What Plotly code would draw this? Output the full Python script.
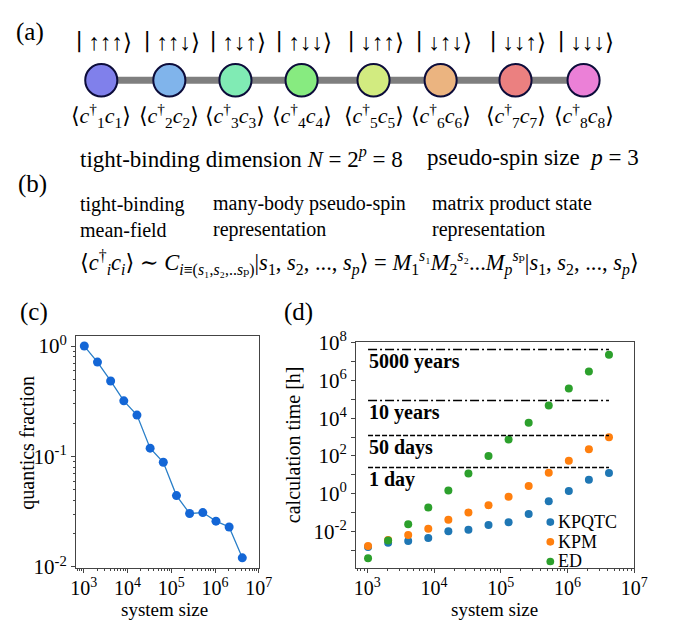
import math
import plotly.graph_objects as go

W, H = 688, 633
SERIF = "Liberation Serif, DejaVu Serif, serif"

# ---------------- panel (a) schematic data ----------------
kets = ["∣ ↑↑↑⟩", "∣ ↑↑↓⟩", "∣ ↑↓↑⟩", "∣ ↑↓↓⟩", "∣ ↓↑↑⟩", "∣ ↓↑↓⟩", "∣ ↓↓↑⟩", "∣ ↓↓↓⟩"]
site_index = ["1", "2", "3", "4", "5", "6", "7", "8"]
site_colors = ["#8080eb", "#80b4eb", "#80ebb4", "#87eb80", "#d2eb80", "#ebb480", "#eb8080", "#eb80d7"]
site_x = [99, 169, 237, 305, 379, 448, 525, 595]

# ---------------- panel (c) data ----------------
system_size = [1024, 2048, 4096, 8192, 16384, 32768, 65536, 131072,
               262144, 524288, 1048576, 2097152, 4194304]
quantics_fraction = [1.0, 0.716, 0.483, 0.319, 0.237, 0.119, 0.0887, 0.0443,
                     0.0305, 0.0311, 0.026, 0.023, 0.0121]

# ---------------- panel (d) data ----------------
time_kpqtc = [0.00148, 0.00245, 0.00309, 0.00437, 0.0100, 0.0120, 0.0219, 0.0302,
              0.0832, 0.398, 1.38, 5.37, 12.3]
time_kpm = [0.00166, 0.00347, 0.00646, 0.0138, 0.0407, 0.100, 0.245, 0.676,
            2.57, 12.9, 55.0, 224.0, 977.0]
time_ed = [0.000372, 0.00324, 0.0234, 0.182, 1.48, 11.7, 97.7, 741.0,
           5750.0, 46800.0, 372000.0, 2950000.0, 23400000.0]
series_names = ["KPQTC", "KPM", "ED"]
series_colors = ["#1f77b4", "#ff7f0e", "#2ca02c"]

threshold_hours = [24, 1200, 87600, 43800000]
threshold_labels = ["1 day", "50 days", "10 years", "5000 years"]
threshold_dash = ["5px,2px", "5px,2px", "9px,3px,2px,3px", "9px,3px,2px,3px"]


def px(x):
    return x / W


def py(y):
    return 1 - y / H


fig = go.Figure()

# panel (c)
fig.add_trace(go.Scatter(
    x=system_size, y=quantics_fraction, mode="lines+markers",
    line=dict(color="#2a7fc8", width=1.3),
    marker=dict(color="#1366d6", size=9),
    xaxis="x", yaxis="y", showlegend=False))

# panel (d)
for name, vals, col in zip(series_names, [time_kpqtc, time_kpm, time_ed], series_colors):
    fig.add_trace(go.Scatter(
        x=system_size, y=vals, mode="markers", name=name,
        marker=dict(color=col, size=8),
        xaxis="x2", yaxis="y2", showlegend=False))

for h, lab, d in zip(threshold_hours, threshold_labels, threshold_dash):
    fig.add_trace(go.Scatter(
        x=[system_size[0], system_size[-1]], y=[h, h], mode="lines",
        line=dict(color="black", width=1.5, dash=d),
        xaxis="x2", yaxis="y2", showlegend=False, hoverinfo="skip"))

annotations = []
shapes = []

for h, lab in zip(threshold_hours, threshold_labels):
    annotations.append(dict(
        x=3.0, y=math.log10(h), xref="x2", yref="y2",
        text="<b>" + lab + "</b>", showarrow=False, xanchor="left", yanchor="middle",
        yshift=-12, font=dict(family=SERIF, size=20, color="black")))

# manual legend for (d)
leg_y = [529.0, 549.5, 570.0]
for name, col, yy in zip(series_names, series_colors, leg_y):
    shapes.append(dict(type="circle", xref="paper", yref="paper",
                       x0=px(556.8), x1=px(564.8), y0=py(yy + 4), y1=py(yy - 4),
                       fillcolor=col, line=dict(width=0)))
    annotations.append(dict(x=px(567), y=py(yy), xref="paper", yref="paper",
                            text=name, showarrow=False, xanchor="left", yanchor="middle",
                            font=dict(family=SERIF, size=18, color="black")))

# schematic (a)
shapes.append(dict(type="line", xref="paper", yref="paper",
                   x0=px(site_x[0]), x1=px(site_x[-1]), y0=py(69), y1=py(69),
                   line=dict(color="#7f7f7f", width=7), layer="above"))
for xx, col, ket, idx in zip(site_x, site_colors, kets, site_index):
    shapes.append(dict(type="circle", xref="paper", yref="paper",
                       x0=px(xx - 16.5), x1=px(xx + 16.5), y0=py(69 + 17), y1=py(69 - 17),
                       fillcolor=col, line=dict(color="#0c0c3a", width=2), layer="above"))
    annotations.append(dict(x=px(xx + 3), y=py(30), xref="paper", yref="paper",
                            text=ket, showarrow=False, xanchor="center", yanchor="middle",
                            font=dict(family=SERIF, size=23, color="black")))
    annotations.append(dict(x=px(xx), y=py(106), xref="paper", yref="paper",
                            text="⟨<i>c</i><sup>†</sup><sub>" + idx + "</sub><i>c</i><sub>" + idx + "</sub>⟩",
                            showarrow=False, xanchor="center", yanchor="middle",
                            font=dict(family=SERIF, size=22, color="black")))

texts = [
    (75, 149, "tight-binding dimension <i>N</i> = 2<sup><i>p</i></sup> = 8", 23),
    (432, 149, "pseudo-spin size  <i>p</i> = 3", 23),
    (75, 211, "tight-binding<br>mean-field", 20),
    (212, 211, "many-body pseudo-spin<br>representation", 20),
    (437, 211, "matrix product state<br>representation", 20),
    (75, 259, "⟨<i>c</i><sup>†</sup><sub><i>i</i></sub><i>c</i><sub><i>i</i></sub>⟩ ∼ "
              "<i>C</i><sub><i>i</i>≡(<i>s</i>₁,<i>s</i>₂,..<i>s</i>ₚ)</sub>"
              "|<i>s</i><sub>1</sub>, <i>s</i><sub>2</sub>, ..., <i>s</i><sub><i>p</i></sub>⟩ = "
              "<i>M</i><sub>1</sub><sup><i>s</i>₁</sup><i>M</i><sub>2</sub><sup><i>s</i>₂</sup>..."
              "<i>M</i><sub><i>p</i></sub><sup><i>s</i>ₚ</sup>"
              "|<i>s</i><sub>1</sub>, <i>s</i><sub>2</sub>, ..., <i>s</i><sub><i>p</i></sub>⟩", 22.5),
]
for xx, yy, t, fs in texts:
    annotations.append(dict(x=px(xx), y=py(yy), xref="paper", yref="paper", text=t,
                            showarrow=False, xanchor="left", yanchor="middle", align="left",
                            font=dict(family=SERIF, size=fs, color="black")))

panel_labels = [(26, 19, "(a)"), (28, 177, "(b)"), (30, 310, "(c)"), (302, 310, "(d)")]
for xx, yy, t in panel_labels:
    annotations.append(dict(x=px(xx), y=py(yy), xref="paper", yref="paper", text=t,
                            showarrow=False, xanchor="center", yanchor="middle",
                            font=dict(family=SERIF, size=25, color="black")))

# axis titles
x_titles = [(164, "system size"), (503, "system size")]
for xx, t in x_titles:
    annotations.append(dict(x=px(xx), y=0, xref="paper", yref="paper", text=t,
                            showarrow=False, xanchor="center", yanchor="bottom",
                            font=dict(family=SERIF, size=19, color="black")))
y_titles = [(23, 446, "quantics fraction"), (296, 448, "calculation time [h]")]
for xx, yy, t in y_titles:
    annotations.append(dict(x=px(xx), y=py(yy), xref="paper", yref="paper", text=t,
                            showarrow=False, xanchor="center", yanchor="middle", textangle=-90,
                            font=dict(family=SERIF, size=20, color="black")))

xt_vals = [1e3, 1e4, 1e5, 1e6, 1e7]
xt_text = ["10<sup>3</sup>", "10<sup>4</sup>", "10<sup>5</sup>", "10<sup>6</sup>", "10<sup>7</sup>"]
minor_x = [m * 10 ** e for e in range(2, 7) for m in range(2, 10)]
minor_yc = [m * 10 ** e for e in range(-3, 1) for m in range(2, 10)]

axis_common = dict(type="log", showgrid=False, zeroline=False, showline=True, mirror=True,
                   linecolor="#444", linewidth=1, ticks="outside", ticklen=4, tickcolor="#444",
                   tickfont=dict(family=SERIF, size=21, color="black"))
x_extra = dict(tickfont=dict(family=SERIF, size=20, color="black"), ticklabelstandoff=-2)

fig.update_layout(
    width=W, height=H, margin=dict(l=0, r=0, t=0, b=0),
    paper_bgcolor="white", plot_bgcolor="white",
    showlegend=False,
    xaxis=dict(domain=[px(73), px(261)], anchor="y", range=[2.82, 7.0],
               tickmode="array", tickvals=xt_vals, ticktext=xt_text,
               minor=dict(tickmode="array", tickvals=minor_x, ticks="outside", ticklen=2, tickcolor="#444"),
               **{**axis_common, **x_extra}),
    yaxis=dict(domain=[py(577), py(335)], anchor="x", range=[-2.011, 0.093],
               tickmode="array", tickvals=[0.01, 0.1, 1], ticktext=["10<sup>-2</sup>", "10<sup>-1</sup>", "10<sup>0</sup>"],
               minor=dict(tickmode="array", tickvals=minor_yc, ticks="outside", ticklen=2, tickcolor="#444"),
               **axis_common),
    xaxis2=dict(domain=[px(361), px(647)], anchor="y2", range=[2.83, 7.0],
                tickmode="array", tickvals=xt_vals, ticktext=xt_text,
                minor=dict(tickmode="array", tickvals=minor_x, ticks="outside", ticklen=2, tickcolor="#444"),
                **{**axis_common, **x_extra}),
    yaxis2=dict(domain=[py(576.7), py(341.7)], anchor="x2", range=[-3.94, 8.03],
                tickmode="array", tickvals=[1e-2, 1, 1e2, 1e4, 1e6, 1e8],
                ticktext=["10<sup>-2</sup>", "10<sup>0</sup>", "10<sup>2</sup>", "10<sup>4</sup>", "10<sup>6</sup>", "10<sup>8</sup>"],
                minor=dict(tickmode="array", tickvals=[1e-3, 1e-1, 1e1, 1e3, 1e5, 1e7], ticks="outside", ticklen=4, tickcolor="#444"),
                **axis_common),
    annotations=annotations,
    shapes=shapes,
)

fig.write_html("out.html")
